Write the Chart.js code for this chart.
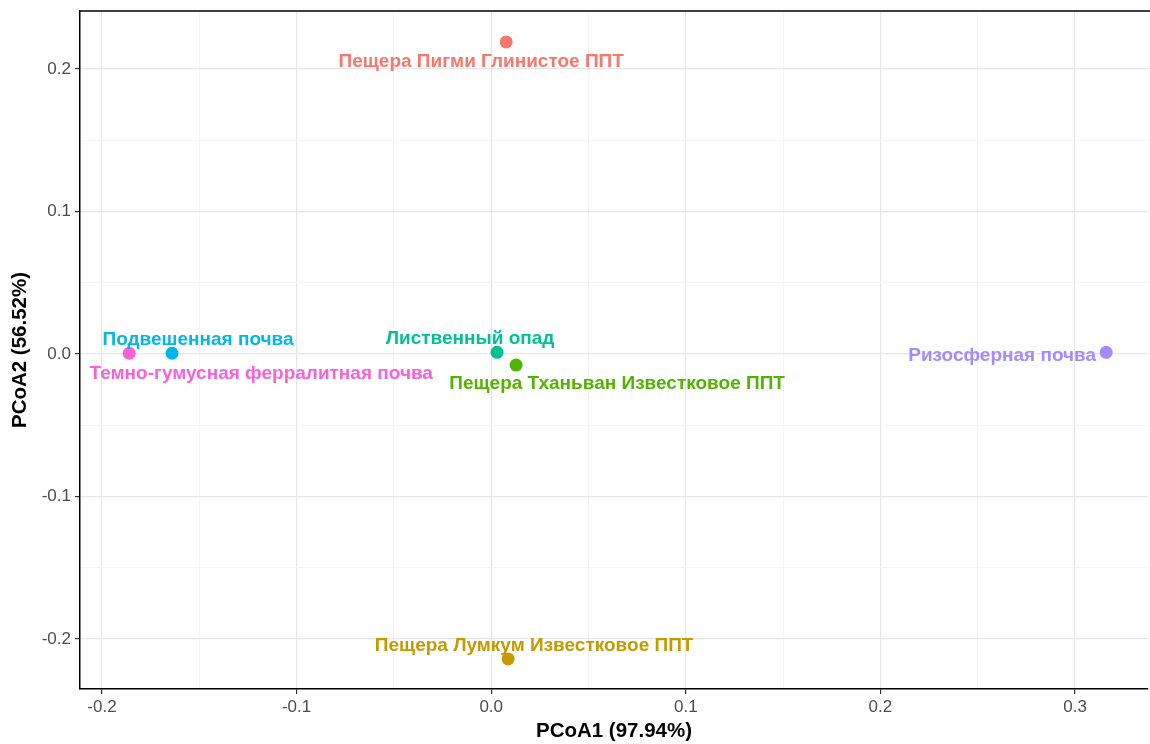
<!DOCTYPE html>
<html>
<head>
<meta charset="utf-8">
<script src="https://cdn.jsdelivr.net/npm/chart.js@4.4.1/dist/chart.umd.min.js"></script>
<style>
  html, body { margin: 0; padding: 0; background: #fff; }
  #wrap { width: 1150px; height: 744px; position: relative; }
</style>
</head>
<body>
<div id="wrap"><canvas id="c" width="1150" height="744"></canvas></div>
<script>
// ---- data ----
const sampleNames = [
  "Пещера Пигми Глинистое ППТ",
  "Подвешенная почва",
  "Темно-гумусная ферралитная почва",
  "Лиственный опад",
  "Пещера Тханьван Известковое ППТ",
  "Ризосферная почва",
  "Пещера Лумкум Известковое ППТ"
];
const pcoa1 = [0.0077, -0.164, -0.186, 0.003, 0.0128, 0.316, 0.0087];
const pcoa2 = [0.219, 0.0005, 0.0005, 0.0012, -0.0078, 0.0012, -0.214];
const xTickValues = [-0.2, -0.15, -0.1, -0.05, 0, 0.05, 0.1, 0.15, 0.2, 0.25, 0.3];
const yTickValues = [-0.2, -0.15, -0.1, -0.05, 0, 0.05, 0.1, 0.15, 0.2];
const xTitle = "PCoA1 (97.94%)";
const yTitle = "PCoA2 (56.52%)";

// ---- styles ----
const pointColors = ["#F8766D", "#00B6EB", "#FB61D7", "#00C094", "#53B400", "#A58AFF", "#C49A00"];
const labelOffsets = [[-25, 20], [26, -14], [132, 20], [-27, -14], [101, 19], [-104, 3], [26, -13]];

const isMajor = v => Math.abs(Math.round(v * 10) - v * 10) < 1e-6;

const datasets = sampleNames.map((n, i) => ({
  label: n,
  data: [{ x: pcoa1[i], y: pcoa2[i] }],
  backgroundColor: pointColors[i],
  borderColor: pointColors[i],
  pointRadius: 6.5,
  pointHoverRadius: 6.5,
  borderWidth: 0
}));

const labelPlugin = {
  id: 'pointLabels',
  afterDatasetsDraw(chart) {
    const ctx = chart.ctx;
    const xs = chart.scales.x, ys = chart.scales.y;
    ctx.save();
    ctx.font = 'bold 19px "Liberation Sans", Arial, sans-serif';
    ctx.textAlign = 'center';
    ctx.textBaseline = 'middle';
    sampleNames.forEach((n, i) => {
      const px = xs.getPixelForValue(pcoa1[i]) + labelOffsets[i][0];
      const py = ys.getPixelForValue(pcoa2[i]) + labelOffsets[i][1];
      ctx.fillStyle = pointColors[i];
      ctx.fillText(n, px, py);
    });
    ctx.restore();
  },
  beforeDatasetsDraw(chart) {
    const ctx = chart.ctx, a = chart.chartArea;
    ctx.save();
    ctx.strokeStyle = '#000';
    ctx.lineWidth = 1.5;
    ctx.beginPath();
    ctx.moveTo(a.left, a.top);
    ctx.lineTo(a.right + 5, a.top);
    ctx.stroke();
    ctx.restore();
  }
};

const zeroPad = s => { s.paddingTop = 0; s.paddingBottom = 0; s.paddingLeft = 0; s.paddingRight = 0; };

new Chart(document.getElementById('c'), {
  type: 'scatter',
  data: { datasets },
  options: {
    responsive: false,
    animation: false,
    layout: { autoPadding: false, padding: { top: 11, right: 2, left: 0, bottom: 0 } },
    plugins: { legend: { display: false }, tooltip: { enabled: false } },
    scales: {
      x: {
        type: 'linear',
        min: -0.2113, max: 0.3375,
        afterBuildTicks: s => { s.ticks = xTickValues.map(v => ({ value: v })); },
        afterFit: s => { s.height = 55; zeroPad(s); },
        ticks: {
          autoSkip: false, maxRotation: 0,
          padding: 3,
          color: '#4D4D4D',
          font: { size: 17, family: '"Liberation Sans", Arial, sans-serif' },
          callback: v => isMajor(v) ? v.toFixed(1) : ''
        },
        grid: {
          color: c => isMajor(c.tick.value) ? '#E6E6E6' : '#F2F2F2',
          lineWidth: c => isMajor(c.tick.value) ? 1.2 : 0.8,
          tickColor: c => isMajor(c.tick.value) ? '#333' : 'rgba(0,0,0,0)',
          tickLength: 5
        },
        border: { color: '#000', width: 1.5 },
        title: {
          display: true, text: xTitle, color: '#000',
          font: { size: 20.5, weight: 'bold', family: '"Liberation Sans", Arial, sans-serif' },
          padding: { top: 0, bottom: 0 }
        }
      },
      y: {
        type: 'linear',
        min: -0.2351, max: 0.2407,
        afterBuildTicks: s => { s.ticks = yTickValues.map(v => ({ value: v })); },
        afterFit: s => { s.width = 80; zeroPad(s); },
        ticks: {
          autoSkip: false,
          padding: 4,
          color: '#4D4D4D',
          font: { size: 17, family: '"Liberation Sans", Arial, sans-serif' },
          callback: v => isMajor(v) ? v.toFixed(1) : ''
        },
        grid: {
          color: c => isMajor(c.tick.value) ? '#E6E6E6' : '#F2F2F2',
          lineWidth: c => isMajor(c.tick.value) ? 1.2 : 0.8,
          tickColor: c => isMajor(c.tick.value) ? '#333' : 'rgba(0,0,0,0)',
          tickLength: 5
        },
        border: { color: '#000', width: 1.5 },
        title: {
          display: true, text: yTitle, color: '#000',
          font: { size: 20.5, weight: 'bold', family: '"Liberation Sans", Arial, sans-serif' },
          padding: { top: 8, bottom: 0 }
        }
      }
    }
  },
  plugins: [labelPlugin]
});
</script>
</body>
</html>
